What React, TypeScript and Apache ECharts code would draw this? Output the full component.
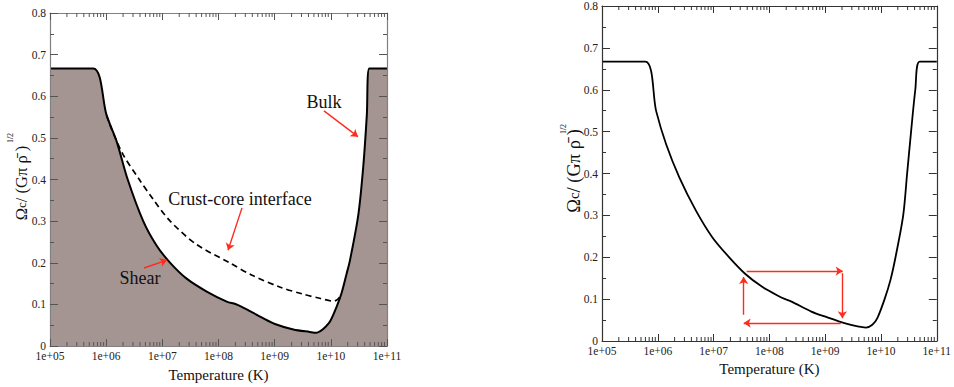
import React, { useEffect, useRef } from 'react';
import * as echarts from 'echarts';

const FONT = "'Liberation Serif', 'Times New Roman', Times, serif";

// Left panel: envelope (shear at low T, bulk at high T) – solid, filled.
// Corner points are repeated so the smoothed line keeps sharp corners.
const LEFT_SOLID: [number, number][] = [
  [1e5, 0.667], [5.89e5, 0.667], [5.89e5, 0.667], [1.02e6, 0.554],
  [1.54e6, 0.491], [2.42e6, 0.4], [4.57e6, 0.3], [7.94e6, 0.241], [1.38e7, 0.2],
  [2.71e7, 0.162], [6.17e7, 0.131], [1.4e8, 0.107], [2.0e8, 0.101], [2.6e8, 0.094],
  [5.48e8, 0.071], [1.01e9, 0.053], [2.15e9, 0.04], [4.2e9, 0.034], [5.5e9, 0.032],
  [6.5e9, 0.036], [8.0e9, 0.046], [9.66e9, 0.059], [1.27e10, 0.095], [1.55e10, 0.127],
  [1.91e10, 0.174], [2.19e10, 0.206], [3.09e10, 0.316], [3.8e10, 0.435], [4.37e10, 0.554],
  [4.84e10, 0.667], [4.84e10, 0.667], [1e11, 0.667],
];

// Left panel: crust-core interface – dashed
const LEFT_DASHED: [number, number][] = [
  [1.02e6, 0.554], [1.26e6, 0.52], [2.0e6, 0.46], [3.89e6, 0.4], [7.08e6, 0.35],
  [1.38e7, 0.3], [3.98e7, 0.245], [1.58e8, 0.2], [3.98e8, 0.17], [1.23e9, 0.142],
  [3.16e9, 0.125], [6.31e9, 0.115], [1.1e10, 0.108], [1.32e10, 0.112], [1.55e10, 0.125],
];

// Right panel curve
const RIGHT_SOLID: [number, number][] = [
  [1e5, 0.667], [5.97e5, 0.667], [5.97e5, 0.667], [9.35e5, 0.549], [1.41e6, 0.47],
  [2.43e6, 0.391], [4.8e6, 0.312], [9.46e6, 0.248], [1.87e7, 0.201], [3.71e7, 0.16],
  [7.31e7, 0.13], [1.45e8, 0.1075], [2.0e8, 0.099], [2.5e8, 0.094], [5.64e8, 0.0703],
  [1.12e9, 0.056], [2.21e9, 0.0427], [3.8e9, 0.0347], [5.35e9, 0.032], [7.0e9, 0.0387],
  [8.6e9, 0.0546], [1.16e10, 0.1], [1.48e10, 0.146], [1.82e10, 0.2], [2.5e10, 0.3],
  [2.94e10, 0.4], [3.46e10, 0.5], [4.12e10, 0.6], [4.93e10, 0.667], [4.93e10, 0.667],
  [1e11, 0.667],
];

// Annotation arrows (data coordinates)
const LEFT_ARROWS: [number, number][][] = [
  [[7.55e9, 0.565], [3.04e10, 0.503]],
  [[2.62e8, 0.332], [1.48e8, 0.23]],
  [[4.71e6, 0.1875], [1.21e7, 0.2065]],
];
const RIGHT_ARROWS: [number, number][][] = [
  [[3.46e7, 0.0624], [3.46e7, 0.153]],
  [[3.91e7, 0.167], [2.06e9, 0.167]],
  [[2.03e9, 0.162], [2.03e9, 0.0546]],
  [[1.9e9, 0.0427], [3.46e7, 0.0427]],
];

const X_MIN = 1e5;
const X_MAX = 1e11;
const Y_MIN = 0;
const Y_MAX = 0.8;
const Y_STEP = 0.1;

const MINOR_T: number[] = [];
for (let n = 5; n <= 10; n++) {
  for (let k = 2; k <= 9; k++) MINOR_T.push(k * Math.pow(10, n));
}

const fmtX = (v: number) => {
  const e = Math.round(Math.log10(v));
  return '1e+' + String(e).padStart(2, '0');
};

function axesFor(gridIndex: number, color: string, tickColor: string) {
  const common = {
    gridIndex,
    z: 5,
    axisLine: { show: true, onZero: false, lineStyle: { color, width: 1.2 } },
    splitLine: { show: false },
  };
  const xb = {
    ...common,
    type: 'log',
    logBase: 10,
    min: X_MIN,
    max: X_MAX,
    splitNumber: 6,
    position: 'bottom',
    axisTick: { show: true, inside: true, length: 7, lineStyle: { color: tickColor } },
    axisLabel: { show: true, formatter: fmtX, fontFamily: FONT, fontSize: 11.5, color: '#222', margin: 4 },
    name: 'Temperature (K)',
    nameLocation: 'middle',
    nameGap: 13,
    nameTextStyle: { fontFamily: FONT, fontSize: 15, color: '#111' },
  };
  const xt = {
    ...common,
    type: 'log',
    logBase: 10,
    min: X_MIN,
    max: X_MAX,
    splitNumber: 6,
    position: 'top',
    axisTick: { show: true, inside: true, length: 7, lineStyle: { color: tickColor } },
    axisLabel: { show: false },
  };
  const yl = {
    ...common,
    type: 'value',
    min: Y_MIN,
    max: Y_MAX,
    interval: Y_STEP,
    position: 'left',
    axisTick: { show: true, inside: true, length: 8, lineStyle: { color: tickColor } },
    minorTick: { show: true, splitNumber: 2, length: 4, lineStyle: { color: tickColor } },
    axisLabel: { show: true, fontFamily: FONT, fontSize: 11.5, color: '#222', margin: 4 },
  };
  const yr = {
    ...common,
    type: 'value',
    min: Y_MIN,
    max: Y_MAX,
    interval: Y_STEP,
    position: 'right',
    axisTick: { show: true, inside: true, length: 8, lineStyle: { color: tickColor } },
    minorTick: { show: true, splitNumber: 2, length: 4, lineStyle: { color: tickColor } },
    axisLabel: { show: false },
  };
  return { x: [xb, xt], y: [yl, yr] };
}

function minorTickSeries(xi: number, yi: number, color: string, atValue: number, dir: number) {
  return {
    type: 'custom',
    xAxisIndex: xi,
    yAxisIndex: yi,
    z: 20,
    clip: false,
    silent: true,
    data: MINOR_T.map((t) => [t, atValue]),
    renderItem: (_p: any, api: any) => {
      const t = api.value(0);
      const p = api.coord([t, atValue]);
      return {
        type: 'rect',
        shape: { x: p[0] - 0.5, y: dir < 0 ? p[1] - 4 : p[1], width: 1, height: 4 },
        style: { fill: color },
      };
    },
  };
}

function arrowSeries(xi: number, yi: number, arrows: [number, number][][]) {
  return {
    type: 'lines',
    coordinateSystem: 'cartesian2d',
    xAxisIndex: xi,
    yAxisIndex: yi,
    z: 15,
    silent: true,
    symbol: ['none', 'arrow'],
    symbolSize: 7,
    lineStyle: { color: '#ff2b1c', width: 1.4, opacity: 1, curveness: 0 },
    data: arrows.map((a) => ({ coords: a })),
  };
}

function yTitle(x: number, y: number, sx: number, sy: number, size: number) {
  return [
    {
      type: 'text',
      x,
      y,
      rotation: Math.PI / 2,
      style: {
        text: '{a|Ω}{b|c}{a|/ (Gπ ρ̄ )}',
        align: 'center',
        verticalAlign: 'middle',
        fill: '#111',
        rich: {
          a: { fontFamily: FONT, fontSize: size, fill: '#111' },
          b: { fontFamily: FONT, fontSize: Math.round(size * 0.8), fill: '#111' },
        },
      },
    },
    {
      type: 'text',
      x: sx,
      y: sy,
      rotation: Math.PI / 2,
      style: { text: '1/2', align: 'center', verticalAlign: 'middle', fontFamily: FONT, fontSize: 8, fill: '#111' },
    },
  ];
}

export default function App() {
  const ref = useRef<HTMLDivElement>(null);
  useEffect(() => {
    if (!ref.current) return;
    const chart = echarts.init(ref.current, undefined, { renderer: 'svg' });
    const L = axesFor(0, '#808080', '#555');
    const R = axesFor(1, '#333', '#333');
    const annot = (text: string, x: number, y: number) => ({
      type: 'text',
      x,
      y,
      z: 30,
      style: { text, align: 'center', verticalAlign: 'middle', fontFamily: FONT, fontSize: 18, fill: '#111' },
    });
    chart.setOption({
      animation: false,
      backgroundColor: '#fff',
      grid: [
        { left: 50, top: 13, width: 337, height: 337 },
        { left: 602, top: 4, width: 338, height: 337 },
      ],
      xAxis: [...L.x, ...R.x],
      yAxis: [...L.y, ...R.y],
      series: [
        {
          type: 'line',
          xAxisIndex: 0,
          yAxisIndex: 0,
          data: LEFT_SOLID,
          showSymbol: false,
          smooth: 0.3,
          z: 3,
          lineStyle: { color: '#000', width: 2, join: 'round' },
          areaStyle: { color: '#a59592', opacity: 1, origin: 'start' },
        },
        {
          type: 'line',
          xAxisIndex: 0,
          yAxisIndex: 0,
          data: LEFT_DASHED,
          showSymbol: false,
          smooth: 0.3,
          z: 4,
          lineStyle: { color: '#000', width: 1.7, type: [6, 4] },
        },
        minorTickSeries(0, 0, '#555', Y_MIN, -1),
        minorTickSeries(0, 0, '#555', Y_MAX, 1),
        arrowSeries(0, 0, LEFT_ARROWS),
        {
          type: 'line',
          xAxisIndex: 2,
          yAxisIndex: 2,
          data: RIGHT_SOLID,
          showSymbol: false,
          smooth: 0.3,
          z: 3,
          lineStyle: { color: '#000', width: 1.8, join: 'round' },
        },
        minorTickSeries(2, 2, '#333', Y_MIN, -1),
        minorTickSeries(2, 2, '#333', Y_MAX, 1),
        arrowSeries(2, 2, RIGHT_ARROWS),
      ],
      graphic: [
        annot('Bulk', 324, 102),
        annot('Crust-core interface', 240, 199),
        annot('Shear', 140, 278),
        ...yTitle(21, 183, 10, 138, 16.5),
        ...yTitle(574, 171, 563, 129, 18.5),
      ],
    });
    return () => chart.dispose();
  }, []);
  return <div ref={ref} style={{ position: 'fixed', left: 0, top: 0, width: 954, height: 387 }} />;
}
